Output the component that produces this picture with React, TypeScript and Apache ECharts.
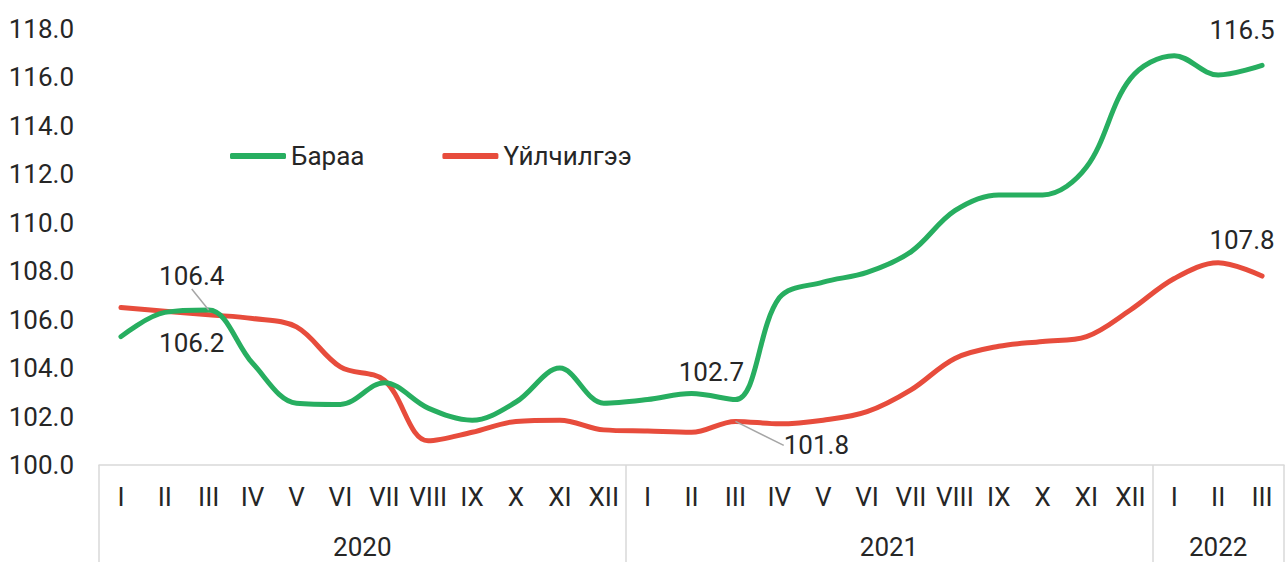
import React, { useEffect, useRef } from "react";
import * as echarts from "echarts";

const years = ["2020", "2021", "2022"];
const monthsPerYear = [12, 12, 3];
const romanMonths = ["I", "II", "III", "IV", "V", "VI", "VII", "VIII", "IX", "X", "XI", "XII"];
const yTicks = { min: 100, max: 118, interval: 2 };

const goods = [
  105.3, 106.3, 106.4, 104.2, 102.55, 102.5, 103.4, 102.35, 101.85, 102.6, 104.0, 102.55,
  102.7, 102.95, 102.7, 106.9, 107.55, 107.95, 108.8, 110.5, 111.15, 111.15, 112.3, 115.95,
  116.9, 116.1, 116.5,
];
const services = [
  106.5, 106.35, 106.2, 106.05, 105.7, 104.05, 103.5, 101.0, 101.35, 101.8, 101.85, 101.45,
  101.4, 101.35, 101.8, 101.7, 101.85, 102.2, 103.1, 104.4, 104.9, 105.1, 105.3, 106.4,
  107.7, 108.35, 107.8,
];
const seriesNames = ["Бараа", "Үйлчилгээ"];
const colors = ["#27AE60", "#E74C3C"];

// labelled points: [seriesIndex, dataIndex, dx, dy, guideLine]
const labelled: [number, number, number, number, boolean][] = [
  [0, 2, -17, -16, true],
  [1, 2, -17, 46, false],
  [0, 14, -24, -10, false],
  [1, 14, 81, 42, true],
  [0, 26, -20, -17, false],
  [1, 26, -20, -18, false],
];

const FONT = "Roboto";
const TXT = "#262626";
const AXIS_GREY = "#D9D9D9";

export default function App() {
  const ref = useRef<HTMLDivElement>(null);
  useEffect(() => {
    if (!ref.current) return;
    const chart = echarts.init(ref.current, null, { renderer: "svg" });

    const categories: string[] = [];
    monthsPerYear.forEach((n) => {
      for (let i = 0; i < n; i++) categories.push(romanMonths[i]);
    });
    const bounds: number[] = [0];
    monthsPerYear.forEach((n) => bounds.push(bounds[bounds.length - 1] + n));
    const centers = monthsPerYear.map((n, i) => bounds[i] + n / 2);
    const total = bounds[bounds.length - 1];

    const mkData = (vals: number[], si: number) =>
      vals.map((v, di) => {
        const l = labelled.find((x) => x[0] === si && x[1] === di);
        if (!l) return v;
        return {
          value: v,
          label: {
            show: true,
            position: "top",
            distance: 5,
            formatter: (p: any) => Number(p.value).toFixed(1),
            fontFamily: FONT,
            fontSize: 26,
            color: TXT,
          },
          labelLine: {
            show: l[4],
            lineStyle: { color: "#A6A6A6", width: 1.5 },
          },
        };
      });

    const mkLayout = (si: number) => (params: any) => {
      const l = labelled.find((x) => x[0] === si && x[1] === params.dataIndex);
      if (!l) return {};
      return { dx: l[2], dy: l[3] };
    };

    chart.setOption({
      animation: false,
      textStyle: { fontFamily: FONT },
      grid: { left: 99, right: 2, top: 29, bottom: 97, containLabel: false },
      legend: {
        data: seriesNames,
        left: 230,
        top: 143,
        icon: "roundRect",
        itemWidth: 56,
        itemHeight: 6,
        itemGap: 78,
        padding: 0,
        textStyle: { fontFamily: FONT, fontSize: 26, color: TXT },
      },
      xAxis: [
        {
          type: "category",
          data: categories,
          boundaryGap: true,
          position: "bottom",
          axisLine: { show: true, lineStyle: { color: AXIS_GREY, width: 1.5 } },
          axisTick: { show: false },
          axisLabel: {
            interval: 0,
            margin: 19,
            fontFamily: FONT,
            fontSize: 26,
            color: TXT,
          },
          splitLine: { show: false },
        },
        {
          type: "value",
          min: 0,
          max: total,
          position: "bottom",
          axisLine: { show: false },
          splitLine: { show: false },
          axisTick: {
            show: true,
            customValues: bounds,
            length: 97,
            lineStyle: { color: AXIS_GREY, width: 1.5 },
          },
          axisLabel: {
            show: true,
            customValues: centers,
            margin: 71,
            lineHeight: 22,
            fontFamily: FONT,
            fontSize: 26,
            color: TXT,
            formatter: (v: number) => {
              const i = centers.findIndex((c) => Math.abs(c - v) < 1e-6);
              return i >= 0 ? years[i] : "";
            },
          },
        },
      ],
      yAxis: {
        type: "value",
        min: yTicks.min,
        max: yTicks.max,
        interval: yTicks.interval,
        axisLine: { show: false },
        axisTick: { show: false },
        splitLine: { show: false },
        axisLabel: {
          margin: 25,
          fontFamily: FONT,
          fontSize: 26,
          color: TXT,
          formatter: (v: number) => v.toFixed(1),
        },
      },
      series: [goods, services].map((vals, si) => ({
        name: seriesNames[si],
        type: "line",
        xAxisIndex: 0,
        smooth: 0.35,
        showSymbol: true,
        symbol: "circle",
        symbolSize: 0.1,
        color: colors[si],
        itemStyle: { color: colors[si] },
        lineStyle: { color: colors[si], width: 5, cap: "round", join: "round" },
        label: { show: false },
        labelLayout: mkLayout(si),
        data: mkData(vals, si),
        z: 3 - si,
      })),
    });
    return () => chart.dispose();
  }, []);
  return (
    <div
      ref={ref}
      style={{ position: "fixed", left: 0, top: 0, width: 1286, height: 562, background: "#fff" }}
    />
  );
}
